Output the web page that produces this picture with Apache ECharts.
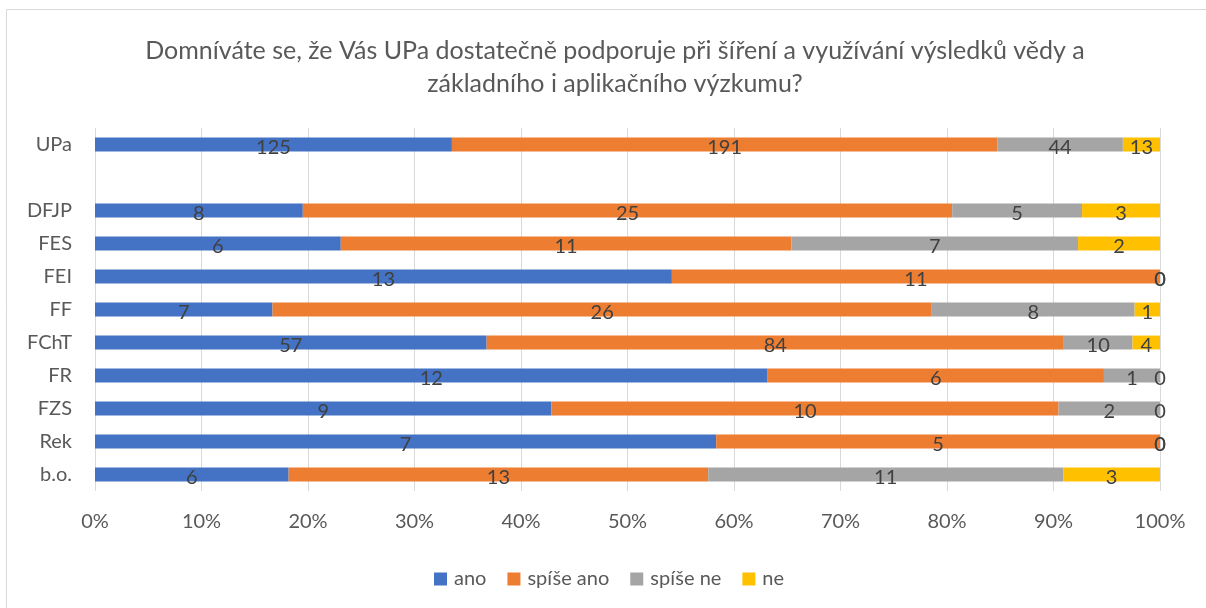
<!DOCTYPE html>
<html><head><meta charset="utf-8">
<script src="https://cdn.jsdelivr.net/npm/echarts@6/dist/echarts.min.js"></script>
<style>html,body{margin:0;padding:0;background:#fff}#c{width:1206px;height:608px}</style>
</head><body><div id="c"></div>
<script>
const categories = ['UPa', '', 'DFJP', 'FES', 'FEI', 'FF', 'FChT', 'FR', 'FZS', 'Rek', 'b.o.'];
const seriesNames = ['ano', 'spíše ano', 'spíše ne', 'ne'];
const ano      = [125, null, 8, 6, 13, 7, 57, 12, 9, 7, 6];
const spiseAno = [191, null, 25, 11, 11, 26, 84, 6, 10, 5, 13];
const spiseNe  = [44, null, 5, 7, 0, 8, 10, 1, 2, 0, 11];
const ne       = [13, null, 3, 2, 0, 1, 4, 0, 0, 0, 3];
const tickLabels = ['0%','10%','20%','30%','40%','50%','60%','70%','80%','90%','100%'];
const colors = ['#4472C4', '#ED7D31', '#A5A5A5', '#FFC000'];
const titleText = 'Domníváte se, že Vás UPa dostatečně podporuje při šíření a využívání výsledků vědy a\nzákladního i aplikačního výzkumu?';

const all = [ano, spiseAno, spiseNe, ne];
const totals = categories.map((c, i) => all.reduce((s, a) => s + (a[i] || 0), 0));
const FONT = 'Lato';

const chart = echarts.init(document.getElementById('c'), null, {renderer: 'canvas'});
chart.setOption({
  animation: false,
  color: colors,
  textStyle: {fontFamily: FONT},
  title: {
    text: titleText,
    left: 610, top: 29, textAlign: 'center',
    textStyle: {fontFamily: FONT, fontSize: 25, fontWeight: 'normal', color: '#595959', lineHeight: 33}
  },
  graphic: [{
    type: 'rect', shape: {x: 6.5, y: 9.5, width: 1300, height: 700},
    style: {fill: 'none', stroke: '#d9d9d9', lineWidth: 1}, silent: true
  }],
  legend: {
    data: seriesNames, left: 429, top: 564,
    icon: 'rect', itemWidth: 13, itemHeight: 13, itemGap: 21,
    textStyle: {fontFamily: FONT, fontSize: 20, color: '#595959', padding: [0, 0, 0, 2]}
  },
  grid: {left: 95, right: 46, top: 128, bottom: 117, containLabel: false},
  xAxis: {
    type: 'value', min: 0, max: 100, interval: 10,
    axisLine: {show: false}, axisTick: {show: false},
    splitLine: {lineStyle: {color: '#d9d9d9', width: 1}},
    axisLabel: {formatter: (v) => tickLabels[Math.round(v / 10)], fontFamily: FONT, fontSize: 20, color: '#595959', margin: 21}
  },
  yAxis: {
    type: 'category', data: categories, inverse: true,
    axisLine: {show: false}, axisTick: {show: false},
    axisLabel: {fontFamily: FONT, fontSize: 20, color: '#595959', margin: 23}
  },
  series: all.map((arr, si) => ({
    name: seriesNames[si], type: 'bar', stack: 'total', barWidth: '42%',
    itemStyle: {color: colors[si]},
    label: {
      show: true, position: 'inside', fontFamily: FONT, fontSize: 20, color: '#404040', offset: [0, 3],
      formatter: (p) => arr[p.dataIndex] == null ? '' : String(arr[p.dataIndex])
    },
    data: arr.map((v, i) => v == null ? '-' : v / totals[i] * 100)
  }))
});
</script></body></html>
